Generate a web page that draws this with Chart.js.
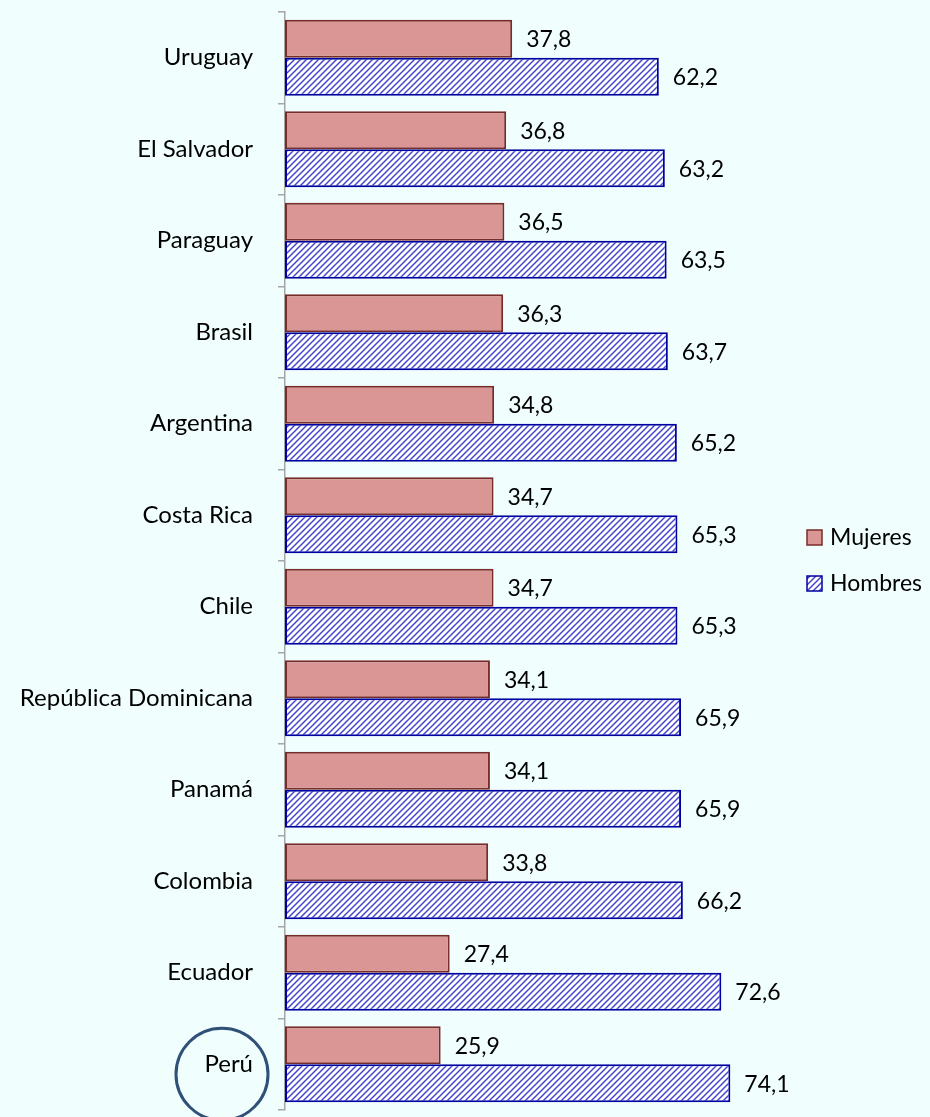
<!DOCTYPE html>
<html lang="es">
<head>
<meta charset="UTF-8">
<title>Mujeres y Hombres</title>
<script src="https://cdn.jsdelivr.net/npm/chart.js@4.4.1/dist/chart.umd.min.js"></script>
<style>
    body { margin: 0; background: #F0FEFE; }
    #wrap { width: 930px; height: 1117px; }
</style>
</head>
<body>
<div id="wrap"><canvas id="genderChart" width="930" height="1117"></canvas></div>
<script>
// Datos
const paises = ['Uruguay', 'El Salvador', 'Paraguay', 'Brasil', 'Argentina', 'Costa Rica', 'Chile',
    'República Dominicana', 'Panamá', 'Colombia', 'Ecuador', 'Perú'];
const mujeres = [37.8, 36.8, 36.5, 36.3, 34.8, 34.7, 34.7, 34.1, 34.1, 33.8, 27.4, 25.9];
const hombres = [62.2, 63.2, 63.5, 63.7, 65.2, 65.3, 65.3, 65.9, 65.9, 66.2, 72.6, 74.1];

const FUENTE = 'Lato, "Open Sans", sans-serif';

// Patrón rayado para Hombres
function crearRayado() {
    const c = document.createElement('canvas');
    c.width = 6;
    c.height = 6;
    const g = c.getContext('2d');
    g.fillStyle = '#ffffff';
    g.fillRect(0, 0, 6, 6);
    g.strokeStyle = '#4646cc';
    g.lineWidth = 1.5;
    g.beginPath();
    g.moveTo(-1, 7); g.lineTo(7, -1);
    g.moveTo(-4, 4); g.lineTo(4, -4);
    g.moveTo(2, 10); g.lineTo(10, 2);
    g.stroke();
    return g.createPattern(c, 'repeat');
}
const rayado = crearRayado();

// Etiquetas de valores
const etiquetasValores = {
    id: 'etiquetasValores',
    afterDatasetsDraw(chart) {
        const ctx = chart.ctx;
        ctx.save();
        ctx.font = '23px ' + FUENTE;
        ctx.fillStyle = '#000';
        ctx.textBaseline = 'middle';
        ctx.textAlign = 'left';
        chart.data.datasets.forEach((ds, i) => {
            chart.getDatasetMeta(i).data.forEach((bar, j) => {
                ctx.fillText(ds.data[j].toFixed(1).replace('.', ','), bar.x + 14, bar.y + 1);
            });
        });
        ctx.restore();
    }
};

// Leyenda a la derecha y círculo en Perú
const extras = {
    id: 'extras',
    afterDraw(chart) {
        const ctx = chart.ctx;
        ctx.save();
        const items = [
            { texto: 'Mujeres', fondo: '#D99694', borde: '#772C2A', y: 538 },
            { texto: 'Hombres', fondo: rayado, borde: '#0000A0', y: 584 }
        ];
        ctx.font = '23px ' + FUENTE;
        ctx.textBaseline = 'middle';
        items.forEach(it => {
            ctx.fillStyle = it.fondo;
            ctx.fillRect(807, it.y - 8, 15, 15);
            ctx.strokeStyle = it.borde;
            ctx.lineWidth = 1.5;
            ctx.strokeRect(807, it.y - 8, 15, 15);
            ctx.fillStyle = '#000';
            ctx.fillText(it.texto, 830, it.y);
        });

        const yPeru = chart.scales.y.getPixelForValue(paises.length - 1);
        ctx.strokeStyle = '#2F5077';
        ctx.lineWidth = 3;
        ctx.beginPath();
        ctx.ellipse(222, yPeru + 10, 46, 46, 0, 0, Math.PI * 2);
        ctx.stroke();
        ctx.restore();
    }
};

const ctx = document.getElementById('genderChart').getContext('2d');
new Chart(ctx, {
    type: 'bar',
    data: {
        labels: paises,
        datasets: [{
            label: 'Mujeres',
            data: mujeres,
            backgroundColor: '#D99694',
            borderColor: '#772C2A',
            borderWidth: 2,
            borderSkipped: false,
            categoryPercentage: 0.83,
            barPercentage: 1.0
        }, {
            label: 'Hombres',
            data: hombres,
            backgroundColor: rayado,
            borderColor: '#0000A0',
            borderWidth: 2,
            borderSkipped: false,
            categoryPercentage: 0.83,
            barPercentage: 1.0
        }]
    },
    options: {
        indexAxis: 'y',
        responsive: false,
        animation: false,
        layout: {
            padding: { top: 12, bottom: 7, right: 44, left: 0 }
        },
        scales: {
            x: {
                display: false,
                min: 0,
                max: 100
            },
            y: {
                grid: {
                    drawOnChartArea: false,
                    drawTicks: true,
                    tickLength: 7,
                    color: '#A6A6A6',
                    lineWidth: 1.5
                },
                border: { color: '#A6A6A6', width: 1.5 },
                ticks: {
                    color: '#000',
                    padding: 25,
                    font: { size: 24, family: FUENTE }
                },
                afterFit(scale) {
                    scale.width = 285;
                    scale.paddingTop = 0;
                    scale.paddingBottom = 0;
                }
            }
        },
        plugins: {
            legend: { display: false },
            tooltip: { enabled: false }
        }
    },
    plugins: [etiquetasValores, extras]
});
</script>
</body>
</html>
